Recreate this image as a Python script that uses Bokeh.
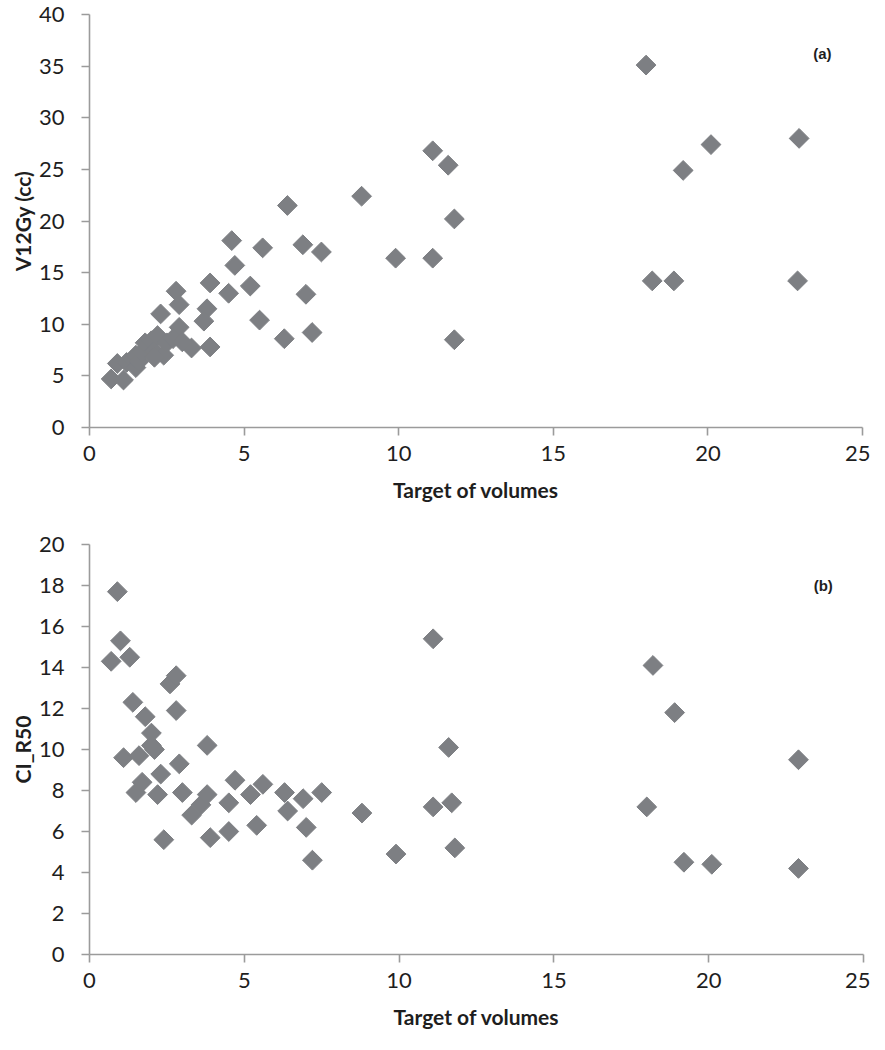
import numpy as np
from bokeh.plotting import figure
from bokeh.layouts import column
from bokeh.models import Range1d, FixedTicker, Label
from bokeh.embed import file_html
from bokeh.resources import INLINE

# ---- data: panel (a) ----
target_a = [18.0, 22.95, 20.1, 19.2, 18.2, 18.9, 22.9,
            11.1, 11.6, 11.8, 9.9, 11.1, 11.8,
            8.8, 6.4, 4.6, 5.6, 6.9, 7.5, 4.7, 3.9, 4.5, 5.2, 7.0,
            2.8, 2.9, 3.8, 3.7, 5.5, 2.9, 7.2, 6.3, 3.9, 3.3, 2.3,
            0.7, 1.1, 0.9, 1.2, 1.4, 1.5, 1.5, 1.6, 1.7, 1.8, 2.0,
            2.1, 2.2, 2.4, 2.5, 2.7, 3.0, 2.1]
v12gy = [35.1, 28.0, 27.4, 24.9, 14.2, 14.2, 14.2,
         26.8, 25.4, 20.2, 16.4, 16.4, 8.5,
         22.4, 21.5, 18.1, 17.4, 17.7, 17.0, 15.7, 14.0, 13.0, 13.7, 12.9,
         13.2, 11.9, 11.5, 10.3, 10.4, 9.7, 9.2, 8.6, 7.8, 7.7, 11.0,
         4.7, 4.6, 6.2, 6.3, 6.6, 7.0, 5.8, 6.4, 7.3, 8.2, 8.4,
         7.4, 8.9, 7.0, 8.2, 8.6, 8.3, 6.8]

# ---- data: panel (b) ----
target_b = [0.7, 0.9, 1.0, 1.1, 1.3, 1.4, 1.5, 1.6, 1.7, 1.8, 2.0, 2.0,
            2.1, 2.2, 2.3, 2.4, 2.6, 2.8, 2.8, 2.9, 3.0, 3.3, 3.6, 3.8,
            3.8, 3.9, 4.5, 4.5, 4.7, 5.2, 5.4, 5.6, 6.3, 6.4, 6.9, 7.0,
            7.2, 7.5, 8.8, 9.9, 11.1, 11.1, 11.6, 11.7, 11.8, 18.0, 18.2,
            18.9, 19.2, 20.1, 22.9, 22.9]
ci_r50 = [14.3, 17.7, 15.3, 9.6, 14.5, 12.3, 7.9, 9.7, 8.4, 11.6, 10.8, 10.2,
          10.0, 7.8, 8.8, 5.6, 13.2, 13.6, 11.9, 9.3, 7.9, 6.8, 7.3, 7.8,
          10.2, 5.7, 6.0, 7.4, 8.5, 7.8, 6.3, 8.3, 7.9, 7.0, 7.6, 6.2,
          4.6, 7.9, 6.9, 4.9, 15.4, 7.2, 10.1, 7.4, 5.2, 7.2, 14.1,
          11.8, 4.5, 4.4, 9.5, 4.2]

x_ticks = [0, 5, 10, 15, 20, 25]
y_ticks_a = [0, 5, 10, 15, 20, 25, 30, 35, 40]
y_ticks_b = [0, 2, 4, 6, 8, 10, 12, 14, 16, 18, 20]

MARK = "#7d7f83"
AXIS = "#9b9b9b"
TXT = "#1e1e1e"
FONT = "Lato"


def make(xs, ys, ymax, yticks, ylabel, tag, tag_xy, bl, bt, bb, fw, fh, w_right):
    p = figure(output_backend="svg", toolbar_location=None,
               frame_width=fw, frame_height=fh,
               min_border_left=bl, min_border_right=w_right,
               min_border_top=bt, min_border_bottom=bb,
               x_range=Range1d(0, 25), y_range=Range1d(0, ymax))
    p.outline_line_color = None
    p.grid.visible = False
    p.background_fill_color = "white"
    p.border_fill_color = "white"
    p.scatter(xs, ys, marker="square", size=14, angle=np.pi / 4,
              fill_color=MARK, line_color=MARK)
    p.xaxis.ticker = FixedTicker(ticks=x_ticks)
    p.yaxis.ticker = FixedTicker(ticks=yticks)
    for ax in (p.xaxis[0], p.yaxis[0]):
        ax.axis_line_color = AXIS
        ax.axis_line_width = 1.6
        ax.major_tick_line_color = AXIS
        ax.major_tick_line_width = 1.6
        ax.major_tick_in = 0
        ax.major_tick_out = 8
        ax.minor_tick_line_color = None
        ax.major_label_text_font = FONT
        ax.major_label_text_font_size = "22px"
        ax.major_label_text_color = TXT
        ax.axis_label_text_font = FONT
        ax.axis_label_text_font_style = "bold"
        ax.axis_label_text_font_size = "21px"
        ax.axis_label_text_color = TXT
    p.xaxis.axis_label = "Target of volumes"
    p.yaxis.axis_label = ylabel
    p.xaxis.major_label_standoff = 10
    p.yaxis.major_label_standoff = 17
    p.xaxis.axis_label_standoff = 13
    p.yaxis.axis_label_standoff = 1
    p.add_layout(Label(x=tag_xy[0], y=tag_xy[1], text=tag,
                       text_font="Liberation Sans", text_font_style="bold",
                       text_font_size="15px", text_color=TXT,
                       text_align="center", text_baseline="middle"))
    return p


p1 = make(target_a, v12gy, 40, y_ticks_a, "V12Gy (cc)", "(a)", (23.7, 36.2),
          bl=89, bt=14, bb=82, fw=773, fh=413, w_right=8)
p2 = make(target_b, ci_r50, 20, y_ticks_b, "CI_R50", "(b)", (23.7, 18.0),
          bl=84, bt=35, bb=80, fw=774, fh=410, w_right=12)

layout = column(p1, p2, spacing=0)
open("out.html", "w").write(file_html(layout, INLINE))
